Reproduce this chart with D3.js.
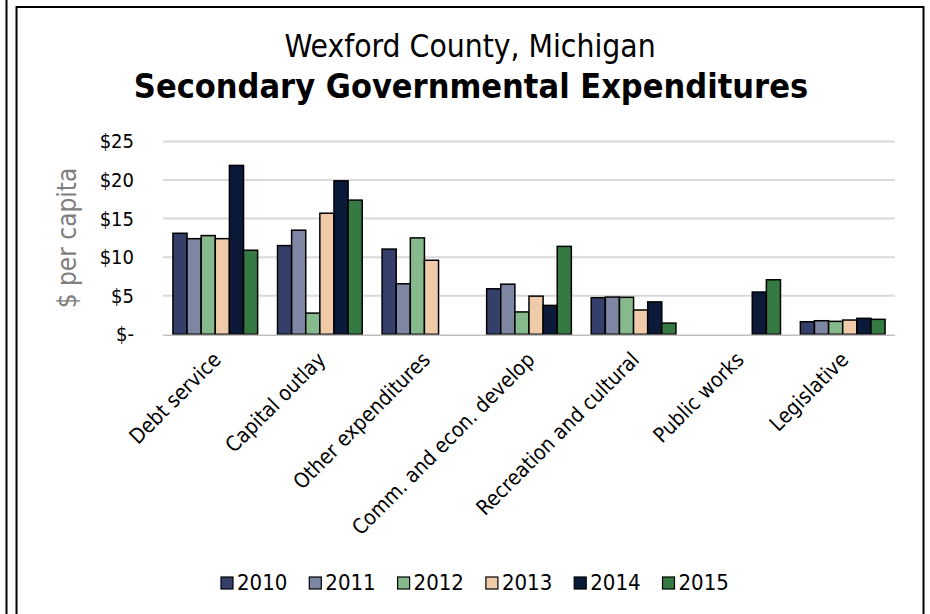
<!DOCTYPE html>
<html>
<head>
<meta charset="utf-8">
<script src="https://cdn.jsdelivr.net/npm/d3@7"></script>
<style>
  html, body { margin: 0; padding: 0; background: #fff; }
  svg { display: block; }
  text { font-family: "DejaVu Sans Condensed", "DejaVu Sans", sans-serif; font-stretch: condensed; }
</style>
</head>
<body>
<div id="chart"></div>
<script>
// data ($ per capita)
const categories = ["Debt service", "Capital outlay", "Other expenditures", "Comm. and econ. develop",
                    "Recreation and cultural", "Public works", "Legislative"];
const years = ["2010", "2011", "2012", "2013", "2014", "2015"];
const values2010 = [13.1, 11.5, 11.05, 5.9, 4.75, null, 1.63];
const values2011 = [12.4, 13.5, 6.55, 6.5, 4.83, null, 1.76];
const values2012 = [12.8, 2.75, 12.5, 2.9, 4.8, null, 1.68];
const values2013 = [12.4, 15.7, 9.6, 4.95, 3.15, null, 1.85];
const values2014 = [21.9, 19.9, null, 3.75, 4.2, 5.48, 2.07];
const values2015 = [10.9, 17.4, null, 11.4, 1.45, 7.07, 1.94];
const yTicks = [0, 5, 10, 15, 20, 25];
const colors = ["#344069", "#7d87a3", "#86b98c", "#f0cbaa", "#0c1a3a", "#357a42"];

const series = [values2010, values2011, values2012, values2013, values2014, values2015];

const width = 930, height = 614;
const plot = {left: 163, right: 895, top: 141.5, bottom: 334.3};

const svg = d3.select("#chart").append("svg")
  .attr("width", width)
  .attr("height", height);

// frame lines
svg.append("line").attr("x1", 6.5).attr("x2", 6.5).attr("y1", 0).attr("y2", height)
   .attr("stroke", "#000").attr("stroke-width", 2);
svg.append("path")
   .attr("d", `M16.5,${height} V7 H923.5 V${height}`)
   .attr("fill", "none").attr("stroke", "#000").attr("stroke-width", 2);

// titles
svg.append("text")
   .attr("x", 470).attr("y", 57)
   .attr("text-anchor", "middle")
   .style("font-size", "31.5px")
   .text("Wexford County, Michigan");
svg.append("text")
   .attr("x", 471).attr("y", 98)
   .attr("text-anchor", "middle")
   .style("font-size", "34px")
   .style("font-weight", "bold")
   .text("Secondary Governmental Expenditures");

const x0 = d3.scaleBand()
  .domain(categories)
  .range([plot.left, plot.right])
  .paddingInner(0.19)
  .paddingOuter(0.095);

const x1 = d3.scaleBand()
  .domain(years)
  .range([0, x0.bandwidth()]);

const y = d3.scaleLinear()
  .domain([0, 25])
  .range([plot.bottom, plot.top]);

// gridlines
svg.append("g")
   .selectAll("line")
   .data(yTicks.filter(d => d > 0))
   .enter()
   .append("line")
   .attr("x1", plot.left).attr("x2", plot.right)
   .attr("y1", d => y(d)).attr("y2", d => y(d))
   .attr("stroke", "#d9d9d9").attr("stroke-width", 2);

// y axis labels
const yAxis = d3.axisLeft(y)
  .tickValues(yTicks)
  .tickSize(0)
  .tickPadding(0)
  .tickFormat(d => d === 0 ? "$-" : "$" + d);

const yAxisG = svg.append("g")
  .attr("transform", `translate(134, 0)`)
  .call(yAxis);
yAxisG.select(".domain").remove();
yAxisG.selectAll("text")
  .style("font-size", "20px")
  .style("font-family", "\"DejaVu Sans Condensed\", \"DejaVu Sans\", sans-serif")
  .attr("fill", "#000");

svg.append("text")
   .attr("transform", "translate(76, 238) rotate(-90)")
   .attr("text-anchor", "middle")
   .attr("fill", "#7f7f7f")
   .style("font-size", "26px")
   .text("$ per capita");

// bars
const groups = svg.append("g")
  .selectAll("g")
  .data(categories)
  .enter()
  .append("g")
  .attr("transform", d => `translate(${x0(d)}, 0)`);

groups.selectAll("rect")
  .data((c, ci) => years.map((yr, si) => ({year: yr, value: series[si][ci], color: colors[si]})))
  .enter()
  .filter(d => d.value != null)
  .append("rect")
  .attr("x", d => x1(d.year))
  .attr("y", d => y(d.value))
  .attr("width", x1.bandwidth())
  .attr("height", d => y(0) - y(d.value))
  .attr("fill", d => d.color)
  .attr("stroke", "#000")
  .attr("stroke-width", 1.5);

// x axis line
svg.append("line")
   .attr("x1", plot.left).attr("x2", plot.right)
   .attr("y1", y(0) + 1).attr("y2", y(0) + 1)
   .attr("stroke", "#bfbfbf").attr("stroke-width", 1.5);

// category labels
svg.append("g")
  .selectAll("text")
  .data(categories)
  .enter()
  .append("text")
  .attr("transform", d => `translate(${x0(d) + x0.bandwidth() / 2 + 7}, 361) rotate(-45)`)
  .attr("text-anchor", "end")
  .style("font-size", "21px")
  .text(d => d);

// legend
const legend = svg.append("g")
  .selectAll("g")
  .data(years)
  .enter()
  .append("g")
  .attr("transform", (d, i) => `translate(${221 + i * 88.3}, 577)`);

legend.append("rect")
  .attr("width", 12).attr("height", 12)
  .attr("fill", (d, i) => colors[i])
  .attr("stroke", "#000").attr("stroke-width", 1.2);

legend.append("text")
  .attr("x", 16).attr("y", 13)
  .style("font-size", "22px")
  .text(d => d);
</script>
</body>
</html>
